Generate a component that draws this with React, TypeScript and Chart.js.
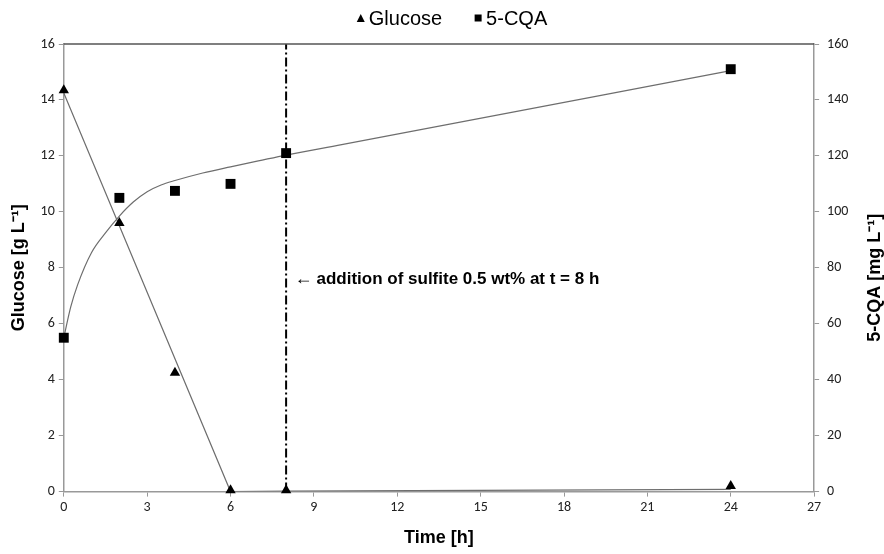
import { useEffect, useRef } from "react";
import { Chart, registerables } from "chart.js";

Chart.register(...registerables);

// ---- data ----
const TIME = [0, 2, 4, 6, 8, 24];
const GLUCOSE = [14.35, 9.6, 4.25, 0.05, 0.05, 0.2];
const CQA = [55, 105, 107.5, 110, 121, 151];

const GLUCOSE_FIT_T = [0, 6, 8, 24];
const GLUCOSE_FIT_Y = [14.25, 0, 0.02, 0.08];

const CQA_FIT_T = [0, 0.25, 0.5, 1, 1.5, 2, 2.5, 3, 3.5, 4, 5, 6, 7, 8, 10, 24];
const CQA_FIT_Y = [55, 66, 74, 85.5, 92.5, 98.5, 103.5, 107.2, 109.6, 111.2, 113.9, 116.1, 118.2, 120.3, 124, 150.5];

const SULFITE_T = 8;
const SULFITE_LINE_Y = [0, 16];
const ANNOTATION_T = 8.3;
const ANNOTATION_Y = 7.6;
const ANNOTATION_ARROW = "\u2190";
const ANNOTATION_TEXT = "addition of sulfite 0.5 wt% at t = 8 h";

const X_RANGE = [0, 27];
const X_STEP = 3;
const Y_RANGE = [0, 16];
const Y_STEP = 2;
const Y2_RANGE = [0, 160];
const Y2_STEP = 20;

const LABELS = {
  glucose: "Glucose",
  cqa: "5-CQA",
  x: "Time [h]",
  y: "Glucose [g L\u207B\u00B9]",
  y2: "5-CQA [mg L\u207B\u00B9]",
};

const zip = (xs: number[], ys: number[]) => xs.map((x, i) => ({ x, y: ys[i] }));

const FONT = "'Liberation Sans', Arial, sans-serif";
const TICK_FONT = "Carlito, 'Liberation Sans Narrow', 'Liberation Sans', Arial, sans-serif";
const TITLE_FONT = { family: FONT, size: 18, weight: "bold" as const };
const LEGEND_FONT_SIZE = 20;

function drawMarker(ctx: CanvasRenderingContext2D, style: string, cx: number, cy: number, size: number) {
  ctx.beginPath();
  if (style === "triangle") {
    ctx.moveTo(cx, cy - size / 2);
    ctx.lineTo(cx + size / 2, cy + size / 2);
    ctx.lineTo(cx - size / 2, cy + size / 2);
    ctx.closePath();
  } else {
    ctx.rect(cx - size / 2, cy - size / 2, size, size);
  }
  ctx.fill();
}

const extrasPlugin = {
  id: "extras",
  afterDatasetsDraw(chart: any) {
    const { ctx, chartArea, scales } = chart;
    ctx.save();
    // top border of plot area
    ctx.strokeStyle = "#555";
    ctx.lineWidth = 1.5;
    ctx.beginPath();
    ctx.moveTo(chartArea.left, chartArea.top);
    ctx.lineTo(chartArea.right, chartArea.top);
    ctx.stroke();
    // annotation
    const x = scales.x.getPixelForValue(ANNOTATION_T);
    const y = scales.y.getPixelForValue(ANNOTATION_Y);
    ctx.fillStyle = "#000";
    ctx.textBaseline = "middle";
    ctx.textAlign = "left";
    ctx.font = `18px ${FONT}`;
    ctx.fillText(ANNOTATION_ARROW, x, y);
    const w = ctx.measureText(ANNOTATION_ARROW).width;
    ctx.font = `bold 17px ${FONT}`;
    ctx.fillText(ANNOTATION_TEXT, x + w + 4, y);
    ctx.restore();

    // right axis title, reading bottom-to-top
    ctx.save();
    const r = scales.y1;
    ctx.fillStyle = "#000";
    ctx.textBaseline = "middle";
    ctx.translate(r.right - 5, (chartArea.top + chartArea.bottom) / 2 + 10);
    ctx.rotate(-Math.PI / 2);
    ctx.textAlign = "center";
    ctx.font = `bold 18px ${FONT}`;
    ctx.fillText(LABELS.y2, 0, 0);
    ctx.restore();

    // legend (marker datasets only)
    ctx.save();
    ctx.font = `${LEGEND_FONT_SIZE}px ${FONT}`;
    ctx.fillStyle = "#000";
    ctx.textBaseline = "middle";
    ctx.textAlign = "left";
    const items = chart.data.datasets.slice(0, 2).map((d: any) => ({
      text: d.label,
      style: d.pointStyle,
      w: ctx.measureText(d.label).width,
    }));
    const markerSize = 8;
    const markerGap = 4;
    const itemGap = 32;
    const total = items.reduce((s: number, it: any) => s + markerSize + markerGap + it.w, 0) + itemGap * (items.length - 1);
    let lx = chart.width / 2 + 10 - total / 2;
    const ly = 18;
    items.forEach((it: any) => {
      drawMarker(ctx, it.style, lx + markerSize / 2, ly, it.style === "triangle" ? markerSize : markerSize - 1);
      lx += markerSize + markerGap;
      ctx.fillText(it.text, lx, ly + 1);
      lx += it.w + itemGap;
    });
    ctx.restore();
  },
};

export default function App() {
  const ref = useRef<HTMLCanvasElement | null>(null);

  useEffect(() => {
    document.body.style.margin = "0";
    const canvas = ref.current;
    if (!canvas) return;
    const axisCommon = {
      grid: { display: true, drawOnChartArea: false, drawTicks: true, tickLength: 5, color: "#999" },
      border: { display: true, color: "#999", width: 1.5 },
    };
    const tickCommon = { color: "#222", font: { family: TICK_FONT, size: 14 }, padding: 4 };
    const chart = new Chart(canvas, {
      type: "scatter",
      data: {
        datasets: [
          {
            label: LABELS.glucose,
            data: zip(TIME, GLUCOSE),
            pointStyle: "triangle",
            pointRadius: 6,
            backgroundColor: "#000",
            borderColor: "#000",
            borderWidth: 0,
            showLine: false,
            clip: false,
            yAxisID: "y",
          },
          {
            label: LABELS.cqa,
            data: zip(TIME, CQA),
            pointStyle: "rect",
            pointRadius: 7,
            backgroundColor: "#000",
            borderColor: "#000",
            borderWidth: 0,
            showLine: false,
            clip: false,
            yAxisID: "y1",
          },
          {
            label: "glucose-fit",
            data: zip(GLUCOSE_FIT_T, GLUCOSE_FIT_Y),
            showLine: true,
            pointRadius: 0,
            borderColor: "#6e6e6e",
            borderWidth: 1.2,
            yAxisID: "y",
          },
          {
            label: "cqa-fit",
            data: zip(CQA_FIT_T, CQA_FIT_Y),
            showLine: true,
            pointRadius: 0,
            borderColor: "#6e6e6e",
            borderWidth: 1.2,
            cubicInterpolationMode: "monotone",
            yAxisID: "y1",
          },
          {
            label: "sulfite",
            data: SULFITE_LINE_Y.map((y) => ({ x: SULFITE_T, y })),
            showLine: true,
            pointRadius: 0,
            borderColor: "#000",
            borderWidth: 2,
            borderDash: [9, 3, 2, 3],
            yAxisID: "y",
          },
        ],
      },
      options: {
        animation: false,
        responsive: false,
        maintainAspectRatio: false,
        layout: { padding: { left: 8, right: 4, top: 44, bottom: 5 } },
        plugins: {
          tooltip: { enabled: false },
          legend: { display: false },
        },
        scales: {
          x: {
            type: "linear",
            min: X_RANGE[0],
            max: X_RANGE[1],
            ticks: { ...tickCommon, stepSize: X_STEP, padding: 2 },
            ...axisCommon,
            title: {
              display: true,
              text: LABELS.x,
              color: "#000",
              font: TITLE_FONT,
              padding: { top: 10, bottom: 0 },
            },
          },
          y: {
            type: "linear",
            position: "left",
            min: Y_RANGE[0],
            max: Y_RANGE[1],
            ticks: { ...tickCommon, stepSize: Y_STEP },
            ...axisCommon,
            title: {
              display: true,
              text: LABELS.y,
              color: "#000",
              font: TITLE_FONT,
              padding: { top: 0, bottom: 7 },
            },
          },
          y1: {
            type: "linear",
            position: "right",
            min: Y2_RANGE[0],
            max: Y2_RANGE[1],
            ticks: { ...tickCommon, stepSize: Y2_STEP, padding: 8 },
            ...axisCommon,
            title: {
              display: true,
              text: LABELS.y2,
              color: "rgba(0,0,0,0)",
              font: TITLE_FONT,
              padding: { top: 2, bottom: 0 },
            },
          },
        },
      },
      plugins: [extrasPlugin],
    } as any);
    return () => chart.destroy();
  }, []);

  return (
    <div style={{ width: 884, height: 554, background: "#fff" }}>
      <canvas ref={ref} width={884} height={554} style={{ display: "block" }} />
    </div>
  );
}
